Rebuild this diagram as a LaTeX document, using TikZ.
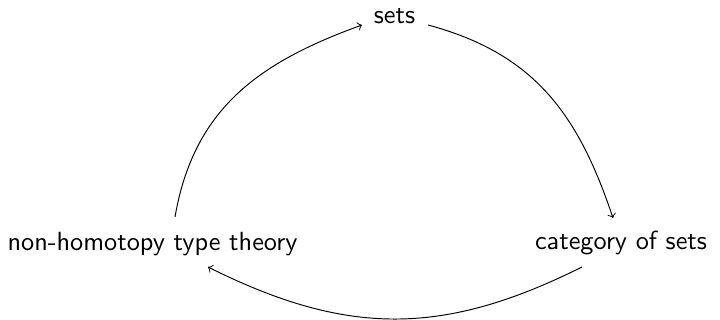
\documentclass[tikz,border=0pt]{standalone}
\usetikzlibrary{calc}
\begin{document}
\begin{tikzpicture}[x=0.415pt,y=-0.415pt,
  lbl/.style={anchor=base,inner sep=0pt,font=\sffamily\fontsize{10.9}{13}\selectfont},
  arr/.style={->,line width=0.4pt}]
\useasboundingbox (0,0) rectangle (720,320);
\node[lbl] (sets) at (394.5,24) {sets};
\node[lbl] (nh) at (152.5,251) {non-homotopy type theory};
\node[lbl] (cat) at (621,250) {category of sets};
\coordinate (a1s) at ($(nh.base)+(22.5,-34)$);
\coordinate (a1e) at ($(sets.base)+(-32.5,1)$);
\coordinate (a2s) at ($(sets.base)+(33.5,1)$);
\coordinate (a2e) at ($(cat.base)+(-8,-32)$);
\coordinate (a3s) at ($(cat.base)+(-39,17)$);
\coordinate (a3e) at ($(nh.base)+(55.5,16)$);
\draw[arr] (a1s) .. controls (193.7,108.7) and (258.6,62.4) .. (a1e);
\draw[arr] (a2s) .. controls (534,53.5) and (578,113.6) .. (a2e);
\draw[arr] (a3s) .. controls (443,336.3) and (347,336.3) .. (a3e);
\end{tikzpicture}
\end{document}
